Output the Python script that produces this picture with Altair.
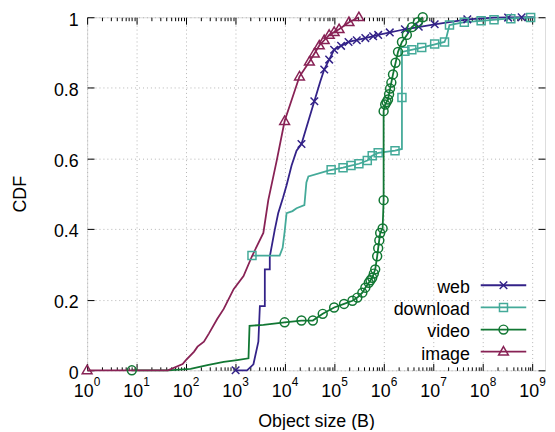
import altair as alt
import pandas as pd

SERIES = ["web", "download", "video", "image"]
COLORS = ["#332288", "#44AA99", "#117733", "#882255"]

X_DECADES = [10 ** n for n in range(10)]
MINOR_MULT = [2, 3, 4, 5, 6, 7, 8, 9]
X_MINOR = [k * 10 ** n for n in range(9) for k in MINOR_MULT]
Y_TICKS = [0, 0.2, 0.4, 0.6, 0.8, 1]

# ---- CDF curves (object size in bytes, cumulative fraction) ----
web_size = [1000, 1700, 2290, 2880, 3090, 3890, 3890, 4900, 4900, 6170, 7240, 9120,
            10700, 13500, 17000, 21400, 29500, 38900, 51300, 61700, 77600, 97700,
            135000, 191000, 417000, 759000, 2630000, 10500000, 47900000, 166000000, 1050000000]
web_cdf = [0, 0, 0.017, 0.081, 0.182, 0.182, 0.286, 0.286, 0.322, 0.398, 0.445, 0.49,
           0.524, 0.58, 0.622, 0.641, 0.706, 0.762, 0.818, 0.852, 0.88, 0.908,
           0.919, 0.93, 0.941, 0.95, 0.966, 0.98, 0.994, 0.999, 1.0]

download_size = [2140, 7760, 8910, 9770, 10700, 14100, 17000, 24500, 26900, 29500,
                 77600, 148000, 214000, 309000, 457000, 575000, 759000, 1660000, 2290000, 2290000,
                 4170000, 6610000, 16600000, 18200000, 20900000, 41700000, 91200000, 316000000, 1050000000]
download_cdf = [0.325, 0.325, 0.347, 0.392, 0.445, 0.451, 0.459, 0.468, 0.532, 0.549,
                0.566, 0.574, 0.58, 0.585, 0.594, 0.608, 0.616, 0.622, 0.627, 0.902,
                0.91, 0.916, 0.93, 0.944, 0.978, 0.986, 0.99, 0.996, 1.0]

video_size = [8, 43, 123, 269, 575, 1070, 1820, 1910, 3630, 9770,
              21400, 36300, 57500, 97700, 155000, 229000, 288000, 363000, 417000, 490000,
              575000, 661000, 724000, 759000, 832000, 933000, 977000, 977000, 1050000, 1200000,
              1320000, 1510000, 1910000, 2290000, 2880000, 3630000, 4790000, 6030000]
video_cdf = [0, 0, 0.004, 0.015, 0.024, 0.029, 0.034, 0.126, 0.129, 0.136,
             0.141, 0.141, 0.16, 0.178, 0.188, 0.197, 0.206, 0.22, 0.234, 0.248,
             0.262, 0.286, 0.323, 0.346, 0.389, 0.402, 0.482, 0.734, 0.753, 0.767,
             0.798, 0.838, 0.902, 0.93, 0.95, 0.972, 0.986, 1.0]

image_size = [1, 43, 85, 98, 145, 170, 229, 288, 427, 575, 912, 1445, 2138, 3631, 4571,
              6761, 9772, 19500, 30900, 49000, 77600, 123000, 195000, 309000]
image_cdf = [0, 0, 0.018, 0.028, 0.053, 0.067, 0.081, 0.104, 0.146, 0.174, 0.23, 0.267, 0.323, 0.389, 0.482,
             0.594, 0.706, 0.832, 0.874, 0.92, 0.95, 0.966, 0.986, 1.0]

# ---- marker positions (points of the curves that carry a symbol) ----
web_mk_size = [1000, 21400, 38900, 61700, 77600, 97700, 135000, 191000, 280000, 417000,
               600000, 759000, 1300000, 2630000, 5000000, 10500000, 47900000, 320000000, 600000000]
web_mk_cdf = [0, 0.641, 0.762, 0.852, 0.88, 0.908, 0.919, 0.93, 0.935, 0.941,
              0.946, 0.95, 0.957, 0.966, 0.973, 0.98, 0.994, 0.999, 1.0]

download_mk_size = [2140, 85000, 148000, 214000, 309000, 457000, 575000, 759000, 1660000, 2290000,
                    2630000, 3630000, 5750000, 10500000, 16600000, 20900000, 41700000, 91200000,
                    166000000, 363000000, 912000000]
download_mk_cdf = [0.325, 0.568, 0.574, 0.58, 0.585, 0.594, 0.608, 0.616, 0.622, 0.773,
                   0.904, 0.908, 0.914, 0.924, 0.93, 0.978, 0.986, 0.99,
                   0.993, 0.996, 0.999]

video_mk_size = [8, 9770, 21400, 36300, 57500, 97700, 155000, 229000, 288000, 363000,
                 417000, 490000, 530000, 575000, 620000, 661000, 724000, 759000, 800000, 832000,
                 933000, 977000, 977000, 1050000, 1120000, 1200000, 1260000, 1320000, 1400000, 1510000,
                 1700000, 1910000, 2290000, 2880000, 3630000, 4790000, 6030000]
video_mk_cdf = [0, 0.136, 0.141, 0.141, 0.16, 0.178, 0.188, 0.197, 0.206, 0.22,
                0.234, 0.248, 0.255, 0.262, 0.274, 0.286, 0.323, 0.346, 0.368, 0.389,
                0.402, 0.482, 0.734, 0.753, 0.76, 0.767, 0.782, 0.798, 0.815, 0.838,
                0.871, 0.902, 0.93, 0.95, 0.972, 0.986, 1.0]

image_mk_size = [1, 9772, 19500, 30900, 38900, 49000, 61700, 77600, 97700, 123000, 195000, 309000]
image_mk_cdf = [0, 0.706, 0.832, 0.874, 0.897, 0.92, 0.935, 0.95, 0.958, 0.966, 0.986, 1.0]


def frame(name, xs, ys):
    return pd.DataFrame({"series": name, "size": xs, "cdf": ys, "i": list(range(len(xs)))})


lines_df = pd.concat([
    frame("web", web_size, web_cdf),
    frame("download", download_size, download_cdf),
    frame("video", video_size, video_cdf),
    frame("image", image_size, image_cdf),
], ignore_index=True)

marks_df = pd.concat([
    frame("web", web_mk_size, web_mk_cdf),
    frame("download", download_mk_size, download_mk_cdf),
    frame("video", video_mk_size, video_mk_cdf),
    frame("image", image_mk_size, image_mk_cdf),
], ignore_index=True)

legend_df = pd.DataFrame({"series": SERIES, "k": list(range(len(SERIES)))})

# ---- styling ----
W, H = 463, 357
FONT = "Liberation Sans"
FS = 18
MK_SIZE = 81
PATHS = {
    "web": "M-0.85,-0.85L0.85,0.85M-0.85,0.85L0.85,-0.85",
    "download": "M-0.9,-0.9H0.9V0.9H-0.9Z",
    "video": "M1,0A1,1,0,1,1,-1,0A1,1,0,1,1,1,0Z",
    "image": "M0,-1.15L1.1,0.75L-1.1,0.75Z",
}
mk_expr = "datum.series === 'web' ? '%s' : datum.series === 'download' ? '%s' : datum.series === 'video' ? '%s' : '%s'" % (
    PATHS["web"], PATHS["download"], PATHS["video"], PATHS["image"])

# legend box layout (pixels inside the plot area)
LEG_ROW0, LEG_ROW_STEP = 271, 22.4
LEG_TEXT_RIGHT, LEG_LINE_X1, LEG_LINE_X2, LEG_MARK_X = 387, 398, 444, 421

x_scale = alt.Scale(type="log", domain=[1, 1.78e9], nice=False)
y_scale = alt.Scale(domain=[0, 1], nice=False)
color_scale = alt.Scale(domain=SERIES, range=COLORS)

GRID = dict(grid=True, gridColor="#b4b4b4", gridDash=[1, 3], gridWidth=1)


def host(x_axis, y_axis):
    return alt.Chart(lines_df).transform_filter("false").mark_point(opacity=0).encode(
        x=alt.X("size:Q", scale=x_scale, axis=x_axis),
        y=alt.Y("cdf:Q", scale=y_scale, axis=y_axis),
    )


def tick_axis(orient, values, size, offset):
    return alt.Axis(orient=orient, offset=offset, values=values, labels=False, domain=False,
                    grid=False, ticks=True, tickSize=size, tickColor="black", tickWidth=1, title=None)


x_label_axis = alt.Axis(
    orient="bottom", values=X_DECADES, labelExpr="'10'", labelFont=FONT, labelFontSize=FS,
    labelColor="black", labelPadding=12, labelOffset=-4, labelFlush=False, labelOverlap=False,
    ticks=False, tickSize=0, domain=False, **GRID,
    title="Object size (B)", titleFont=FONT, titleFontSize=FS, titleFontWeight="normal",
    titleColor="black", titlePadding=13)

x_exp_axis = alt.Axis(
    orient="bottom", values=X_DECADES, labelExpr="format(log(datum.value)/LN10, '.0f')",
    labelFont=FONT, labelFontSize=12, labelColor="black", labelPadding=6, labelOffset=9.5,
    labelFlush=False, labelOverlap=False, ticks=False, tickSize=0, domain=False, grid=False, title=None)

y_label_axis = alt.Axis(
    orient="left", values=Y_TICKS, format="~g", labelFont=FONT, labelFontSize=FS, labelColor="black",
    labelPadding=9, labelOffset=3, ticks=False, tickSize=0, domain=False, **GRID,
    title="CDF", titleFont=FONT, titleFontSize=FS, titleFontWeight="normal", titleColor="black",
    titlePadding=24)

layers = [
    host(x_label_axis, y_label_axis),
    host(x_exp_axis, tick_axis("right", Y_TICKS, 7, -W)),
    host(tick_axis("top", X_DECADES, 7, -H), tick_axis("left", Y_TICKS, 7, -W)),
    host(tick_axis("top", X_MINOR, 3.5, -H), None),
    host(tick_axis("bottom", X_DECADES, 7, -H), None),
    host(tick_axis("bottom", X_MINOR, 3.5, -H), None),
]

lines = alt.Chart(lines_df).mark_line(strokeWidth=1.8).encode(
    x=alt.X("size:Q", scale=x_scale, axis=None),
    y=alt.Y("cdf:Q", scale=y_scale, axis=None),
    color=alt.Color("series:N", scale=color_scale, legend=None),
    order=alt.Order("i:Q"),
)

markers = alt.Chart(marks_df).transform_calculate(mk=mk_expr).mark_point(
    filled=False, opacity=1, size=MK_SIZE, strokeWidth=1.5).encode(
    x=alt.X("size:Q", scale=x_scale, axis=None),
    y=alt.Y("cdf:Q", scale=y_scale, axis=None),
    color=alt.Color("series:N", scale=color_scale, legend=None),
    shape=alt.Shape("mk:N", scale=None),
)

# ---- key (gnuplot style: label, then line sample with its marker) ----
leg_base = alt.Chart(legend_df).transform_calculate(
    py="%s + %s * datum.k" % (LEG_ROW0, LEG_ROW_STEP), mk=mk_expr)
leg_y = alt.Y("py:Q", scale=None, axis=None)

leg_text = leg_base.mark_text(align="right", baseline="middle", dy=3, font=FONT, fontSize=FS,
                              color="black").encode(
    x=alt.value(LEG_TEXT_RIGHT), y=leg_y, text="series:N")

leg_line = leg_base.mark_rule(strokeWidth=1.8).encode(
    x=alt.value(LEG_LINE_X1), x2=alt.value(LEG_LINE_X2), y=leg_y,
    color=alt.Color("series:N", scale=color_scale, legend=None))

leg_mark = leg_base.mark_point(filled=False, opacity=1, size=MK_SIZE, strokeWidth=1.5).encode(
    x=alt.value(LEG_MARK_X), y=leg_y,
    color=alt.Color("series:N", scale=color_scale, legend=None),
    shape=alt.Shape("mk:N", scale=None))

chart = alt.layer(*layers, lines, markers, leg_line, leg_mark, leg_text).properties(
    width=W, height=H,
    padding={"left": 80, "top": 7, "right": 2, "bottom": 58},
    autosize=alt.AutoSizeParams(type="none"),
).resolve_axis(x="independent", y="independent").configure_view(
    stroke="black", strokeWidth=1
).configure(background="white")

chart.save("out.html", embed_options={"renderer": "svg", "actions": False})
